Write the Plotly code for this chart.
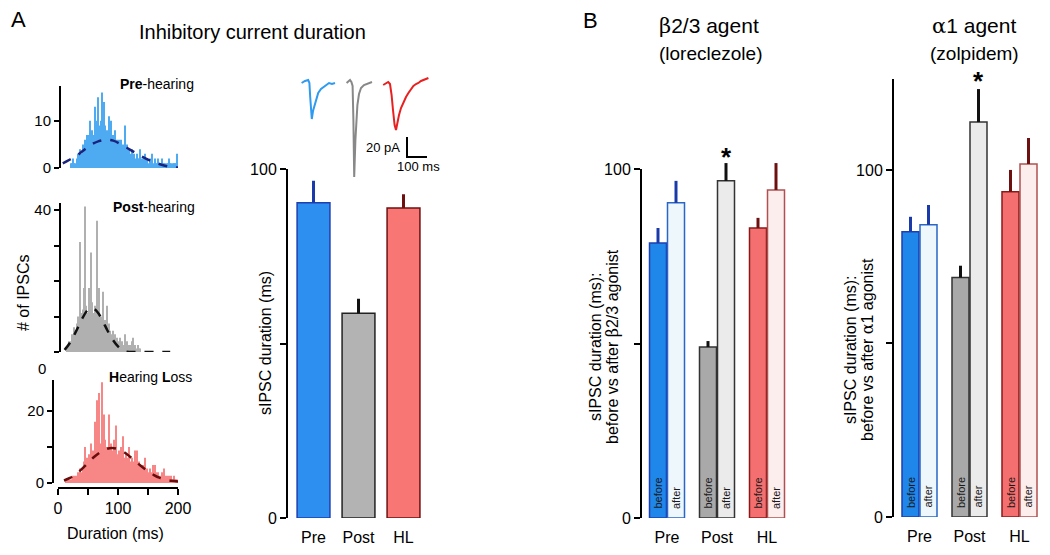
import plotly.graph_objects as go

W, H = 1050, 555
OFF = 8  # page body margin of the browser
def px(x): return (x - OFF) / W
def py(y): return 1 - (y - OFF) / H

FONT = "Liberation Sans, Arial, Helvetica, sans-serif"

# ---------------- data ----------------
hist_bin_width = 2
pre_bin_start = 20
pre_counts = [1, 1, 2, 1, 1,
              2, 3, 2, 4, 3,
              5, 3, 6, 4, 7,
              7, 10, 6, 8, 7,
              13, 9, 10, 15, 9,
              10, 16, 8, 14, 9,
              8, 6, 11, 7, 10,
              7, 5, 8, 4, 6,
              6, 5, 6, 4, 5,
              9, 3, 5, 3, 4,
              3, 4, 2, 3, 2,
              3, 2, 2, 4, 2,
              2, 1, 3, 1, 2,
              1, 2, 1, 3, 1,
              2, 1, 1, 2, 1,
              1, 2, 1, 1, 1,
              1, 1, 2, 1, 1,
              1, 1, 1, 1, 3]
post_bin_start = 14
post_counts = [1, 2, 3,
               3, 5, 4, 7, 6,
               8, 10, 9, 31, 11,
               12, 18, 41, 13, 11,
               18, 12, 28, 14, 11,
               13, 10, 37, 11, 18,
               10, 9, 17, 8, 9,
               13, 7, 8, 6, 5,
               6, 4, 5, 3, 4,
               3, 4, 2, 3, 2,
               5, 2, 3, 1, 2,
               2, 3, 4, 1, 2,
               1, 2, 1, 1, 0]
hl_bin_start = 12
hl_counts = [1, 1, 1, 1,
             1, 1, 2, 1, 2,
             2, 3, 2, 4, 3,
             4, 6, 10, 5, 7,
             8, 6, 11, 7, 9,
             17, 9, 23, 12, 25,
             11, 28, 13, 19, 12,
             10, 9, 19, 8, 11,
             9, 12, 8, 16, 8,
             9, 7, 10, 8, 13,
             7, 8, 6, 7, 10,
             6, 7, 5, 6, 9,
             9, 5, 6, 4, 5,
             5, 4, 7, 3, 4,
             3, 4, 3, 2, 5,
             5, 3, 2, 3, 2,
             2, 3, 2, 4, 2,
             2, 1, 2, 1, 2,
             1, 2, 1, 1, 1]

pre_fit_ms = [8, 20, 33, 45, 56, 68, 80, 92, 104, 116, 128, 140, 155, 170, 185, 200]
pre_fit_n = [1.0, 1.8, 2.8, 4.0, 5.0, 5.7, 6.0, 5.8, 5.1, 4.2, 3.3, 2.4, 1.5, 0.8, 0.3, 0.1]
post_fit_ms = [11, 20, 30, 40, 50, 58, 66, 74, 82, 90, 100, 108, 114, 130, 150, 170, 187]
post_fit_n = [0.6, 2.6, 5.8, 9.3, 11.9, 12.3, 11.2, 8.9, 6.2, 3.8, 1.6, 0.5, 0.1, 0, 0, 0, 0]
hl_fit_ms = [10, 20, 30, 40, 50, 60, 70, 80, 90, 100, 110, 120, 130, 140, 150, 160, 170, 180, 190, 200]
hl_fit_n = [0.7, 1.4, 2.5, 3.9, 5.6, 7.2, 8.5, 9.4, 9.7, 9.4, 8.6, 7.3, 5.9, 4.5, 3.3, 2.2, 1.4, 0.9, 0.6, 0.4]

# example sIPSC traces (ms, pA)
blue_t = [33, 50, 66, 72, 76, 80, 84, 90, 100, 116, 130, 142, 155, 170, 185, 200]
blue_i = [-3, -1, 0, -3, -17, -32, -39, -31, -23, -13, -9, -7, -5, -3, -4, -3]
grey_t = [258, 268, 275, 282, 288, 292, 296, 298, 302, 306, 312, 320, 330, 345, 360, 375, 385]
grey_i = [-3, -1, 0, -2, -6, -40, -97, -85, -60, -40, -25, -14, -8, -5, -4, -3, -2]
red_t = [441, 455, 466, 475, 483, 490, 498, 505, 512, 520, 530, 542, 555, 567, 580, 592, 605, 617, 630, 642, 655, 667]
red_i = [-5, -3, -2, -4, -15, -30, -45, -50, -42, -35, -28, -22, -17, -13, -9, -6, -4, -3, -1, 0, 1, 2]
scale_t0, scale_i0 = 560, -77
scale_pA, scale_ms = 20, 100

groups = ["Pre", "Post", "HL"]
dur_A = [90.3, 58.7, 88.8]
dur_A_err = [6.3, 4.1, 4.0]

beta_before = [78.8, 49.0, 83.1]
beta_before_err = [4.3, 1.7, 2.9]
beta_after = [90.3, 96.6, 94.0]
beta_after_err = [6.3, 5.1, 7.7]

alpha_before = [82.2, 69.0, 93.7]
alpha_before_err = [4.3, 3.4, 6.3]
alpha_after = [84.2, 113.8, 101.7]
alpha_after_err = [5.7, 9.5, 7.5]

# ---------------- styles ----------------
fill_A = ["#2d8ff0", "#b3b3b3", "#f87674"]
edge_A = ["#1d3fb0", "#222222", "#6e1010"]
err_col = ["#1a3aaa", "#111111", "#6e1010"]
fill_before = ["#1f86ea", "#a9a9a9", "#f47070"]
fill_after = ["#eef7fb", "#ebebeb", "#fdeeee"]
edge_before = ["#1d3fb0", "#333333", "#8a1a1a"]
edge_after = ["#2a66c8", "#333333", "#b05050"]
hist_col = ["#3ba3f0", "#a8a8a8", "#f77b7b"]
fit_col = ["#1a237e", "#111111", "#6a0d0d"]
trace_col = ["#2e9af0", "#888888", "#e82020"]

fig = go.Figure()

def bins(start, n):
    return [start + hist_bin_width * (k + 0.5) for k in range(n)]

hists = [(pre_bin_start, pre_counts, pre_fit_ms, pre_fit_n, "x", "y"),
         (post_bin_start, post_counts, post_fit_ms, post_fit_n, "x2", "y2"),
         (hl_bin_start, hl_counts, hl_fit_ms, hl_fit_n, "x3", "y3")]
for k, (st, cnt, fms, fn, xa, ya) in enumerate(hists):
    fig.add_trace(go.Bar(x=bins(st, len(cnt)), y=cnt, width=hist_bin_width * 0.9,
                         marker=dict(color=hist_col[k], line=dict(width=0)),
                         opacity=0.9, xaxis=xa, yaxis=ya))
    fig.add_trace(go.Scatter(x=fms, y=fn, mode="lines", line=dict(color=fit_col[k], width=2.5, dash="dash", shape="spline"),
                             xaxis=xa, yaxis=ya))

# Bar chart A
for i, g in enumerate(groups):
    fig.add_trace(go.Bar(x=[i], y=[dur_A[i]], width=0.73,
                         marker=dict(color=fill_A[i], line=dict(color=edge_A[i], width=1.5)),
                         error_y=dict(type="data", symmetric=False, array=[dur_A_err[i]], arrayminus=[0],
                                      color=err_col[i], thickness=3, width=0),
                         xaxis="x4", yaxis="y4"))

# traces
for t, i_, c in [(blue_t, blue_i, trace_col[0]), (grey_t, grey_i, trace_col[1]), (red_t, red_i, trace_col[2])]:
    fig.add_trace(go.Scatter(x=t, y=i_, mode="lines", line=dict(color=c, width=2), xaxis="x5", yaxis="y5"))
fig.add_trace(go.Scatter(x=[scale_t0, scale_t0, scale_t0 + scale_ms],
                         y=[scale_i0 + scale_pA, scale_i0, scale_i0], mode="lines",
                         line=dict(color="black", width=2), xaxis="x5", yaxis="y5"))

# Panel B
off, bw = 0.18, 0.34
for before, berr, after, aerr, xa, ya in [(beta_before, beta_before_err, beta_after, beta_after_err, "x6", "y6"),
                                          (alpha_before, alpha_before_err, alpha_after, alpha_after_err, "x7", "y7")]:
    for i in range(3):
        fig.add_trace(go.Bar(x=[i - off, i + off], y=[before[i], after[i]], width=bw,
                             marker=dict(color=[fill_before[i], fill_after[i]],
                                         line=dict(color=[edge_before[i], edge_after[i]], width=1.5)),
                             error_y=dict(type="data", symmetric=False, array=[berr[i], aerr[i]], arrayminus=[0, 0],
                                          color=err_col[i], thickness=3, width=0),
                             xaxis=xa, yaxis=ya))

tickfont = dict(size=16, color="black", family=FONT)
def yax(**kw):
    d = dict(showline=True, linecolor="black", linewidth=2, ticks="outside", ticklen=6, tickwidth=2,
             tickcolor="black", showgrid=False, zeroline=False, tickfont=tickfont, fixedrange=True,
             automargin=False)
    d.update(kw)
    return d
def xhidden(**kw):
    d = dict(visible=False, showgrid=False, zeroline=False, fixedrange=True, automargin=False)
    d.update(kw)
    return d
def xcat(**kw):
    d = dict(showline=False, ticks="", showgrid=False, zeroline=False, tickvals=[0, 1, 2], ticktext=groups,
             tickfont=dict(size=16, color="black", family=FONT), fixedrange=True, ticklabelstandoff=8,
             automargin=False)
    d.update(kw)
    return d

layout = dict(
    width=W, height=H, autosize=False, margin=dict(l=0, r=0, t=0, b=0, autoexpand=False),
    paper_bgcolor="white", plot_bgcolor="rgba(0,0,0,0)", showlegend=False,
    barmode="overlay", font=dict(family=FONT, color="black"),
    xaxis=xhidden(domain=[px(58), px(178)], range=[0, 200], anchor="y"),
    yaxis=yax(domain=[py(168), py(86)], range=[0, 17.4], anchor="free", position=px(60),
              tickvals=[0, 10], ticktext=["0", "10"], ticklen=5, tickfont=dict(size=15, color="black", family=FONT)),
    xaxis2=xhidden(domain=[px(58), px(178)], range=[0, 200], anchor="y2"),
    yaxis2=yax(domain=[py(352), py(203)], range=[0, 41.97], anchor="free", position=px(60),
               tickvals=[0, 10, 20, 30, 40], ticktext=["", "", "", "", "40"], ticklen=5,
               tickfont=dict(size=15, color="black", family=FONT)),
    xaxis3=dict(domain=[px(58), px(178)], range=[0, 200], anchor="free", position=py(488),
                showline=True, linecolor="black", linewidth=2, ticks="outside", ticklen=6, tickwidth=2,
                tickcolor="black", showgrid=False, zeroline=False, tickvals=[0, 50, 100, 150, 200],
                ticktext=["0", "", "100", "", "200"], tickfont=dict(size=16, color="black", family=FONT),
                fixedrange=True, automargin=False),
    yaxis3=yax(domain=[py(483), py(380)], range=[0, 28.6], anchor="free", position=px(53),
               tickvals=[0, 10, 20], ticktext=["0", "", "20"], ticklen=5,
               tickfont=dict(size=15, color="black", family=FONT)),
    xaxis4=xcat(domain=[px(288), px(421.5)], range=[-0.567, 2.4], anchor="y4"),
    yaxis4=yax(domain=[py(518), py(169)], range=[0, 100], anchor="x4",
               tickvals=[0, 50, 100], ticktext=["0", "", "100"]),
    xaxis5=xhidden(domain=[px(295), px(435)], range=[0, 700], anchor="y5"),
    yaxis5=dict(visible=False, domain=[py(180), py(70)], range=[-100, 10], anchor="x5", fixedrange=True,
                automargin=False),
    xaxis6=xcat(domain=[px(641), px(790)], range=[-0.52, 2.46], anchor="y6"),
    yaxis6=yax(domain=[py(518), py(518 - 110 * 3.49)], range=[0, 110], anchor="x6", showline=False,
               tickvals=[0, 50, 100], ticktext=["0", "", "100"]),
    xaxis7=xcat(domain=[px(894), px(1042)], range=[-0.51, 2.45], anchor="y7"),
    yaxis7=yax(domain=[py(517), py(79)], range=[0, 126.2], anchor="x7",
               tickvals=[0, 50, 100], ticktext=["0", "", "100"]),
)
fig.update_layout(**layout)

# axis line of B-left (stops at 100)
fig.add_shape(type="line", xref="x6 domain", yref="y6", x0=0, x1=0, y0=0, y1=100,
              line=dict(color="black", width=2))

ann = []
def T(text, x, y, size=16, angle=0, xanchor="center", yanchor="middle", **kw):
    d = dict(text=text, x=px(x), y=py(y), xref="paper", yref="paper", showarrow=False,
             font=dict(size=size, color="black", family=FONT), textangle=angle,
             xanchor=xanchor, yanchor=yanchor)
    d.update(kw)
    ann.append(d)

T("A", 18, 19, size=22)
T("Inhibitory current duration", 252, 32, size=20)
T("B", 590, 20, size=22)
T("<span style='font-family:DejaVu Serif'>β</span>2/3 agent", 709, 26, size=21)
T("(loreclezole)", 710, 53, size=19)
T("<span style='font-family:DejaVu Serif'>α</span>1 agent", 974, 26, size=21)
T("(zolpidem)", 974, 53, size=19)
T("<b>Pre</b>-hearing", 157, 84, size=14)
T("<b>Post</b>-hearing", 154, 207, size=14)
T("<b>H</b>earing <b>L</b>oss", 150, 377, size=14)
T("# of IPSCs", 23, 293, size=16, angle=-90)
T("0", 42, 368, size=15)
T("Duration (ms)", 115, 533, size=16)
T("sIPSC duration (ms)", 265, 343, size=16, angle=-90)
T("sIPSC duration (ms):", 595, 347, size=16, angle=-90)
T("before vs after <span style='font-family:DejaVu Serif'>β</span>2/3 agonist", 612, 347, size=16, angle=-90)
T("sIPSC duration (ms):", 850, 350, size=16, angle=-90)
T("before vs after <span style='font-family:DejaVu Serif'>α</span>1 agonist", 867, 350, size=16, angle=-90)

# scale bar labels
ann.append(dict(text="20 pA", x=scale_t0 - 25, y=scale_i0 + scale_pA / 2, xref="x5", yref="y5", showarrow=False,
                xanchor="right", yanchor="middle", font=dict(size=13, color="black", family=FONT)))
ann.append(dict(text="100 ms", x=scale_t0 + scale_ms * 0.55, y=scale_i0 - 9, xref="x5", yref="y5", showarrow=False,
                xanchor="center", yanchor="middle", font=dict(size=13, color="black", family=FONT)))

# before / after labels inside bars and stars
for xa, ya in [("x6", "y6"), ("x7", "y7")]:
    for i in range(3):
        for dx, lab in [(-off, "before"), (off, "after")]:
            ann.append(dict(text=lab, x=i + dx, y=2, xref=xa, yref=ya, showarrow=False, textangle=-90,
                            xanchor="center", yanchor="bottom", font=dict(size=11, color="#1a1a1a", family=FONT)))
ann.append(dict(text="<b>*</b>", x=1 + off, y=beta_after[1] + beta_after_err[1], xref="x6", yref="y6",
                showarrow=False, xanchor="center", yanchor="bottom", yshift=-11,
                font=dict(size=26, color="black", family=FONT)))
ann.append(dict(text="<b>*</b>", x=1 + off, y=alpha_after[1] + alpha_after_err[1], xref="x7", yref="y7",
                showarrow=False, xanchor="center", yanchor="bottom", yshift=-9,
                font=dict(size=26, color="black", family=FONT)))

fig.update_layout(annotations=ann)
fig.write_html("out.html")
